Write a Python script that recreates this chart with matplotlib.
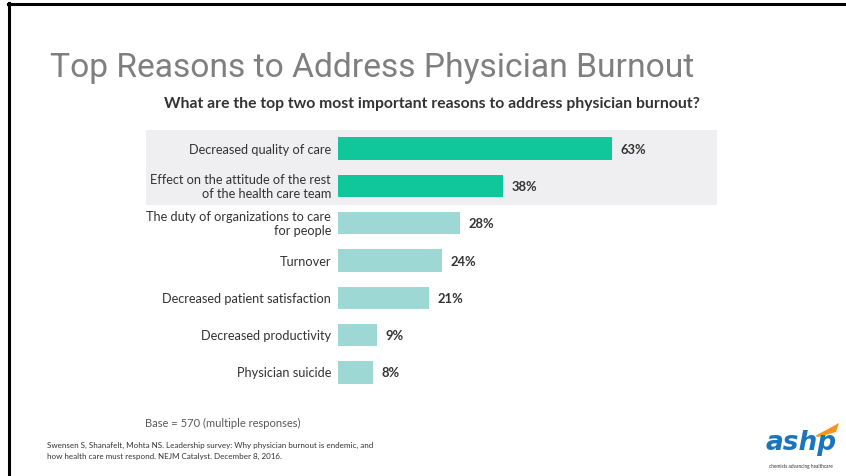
import matplotlib
matplotlib.use("Agg")
import matplotlib.pyplot as plt
from matplotlib.patches import Rectangle, Polygon
from matplotlib.lines import Line2D

# Survey results
reasons = [
    "Decreased quality of care",
    "Effect on the attitude of the rest\nof the health care team",
    "The duty of organizations to care\nfor people",
    "Turnover",
    "Decreased patient satisfaction",
    "Decreased productivity",
    "Physician suicide",
]
percent = [63, 38, 28, 24, 21, 9, 8]
highlight = [True, True, False, False, False, False, False]

title = "Top Reasons to Address Physician Burnout"
question = "What are the top two most important reasons to address physician burnout?"
base_note = "Base = 570 (multiple responses)"
citation = ("Swensen S, Shanafelt, Mohta NS. Leadership survey: Why physician burnout is endemic, and\n"
            "how health care must respond. NEJM Catalyst. December 8, 2016.")

W, H = 846, 477
DARK = "#10c79b"
LIGHT = "#9dd8d4"
BAND = "#efeff1"
TEXT = "#333333"


def fx(px):
    return px / W


def fy(py):
    return 1 - py / H


fig = plt.figure(figsize=(W / 100, H / 100), dpi=100)
fig.patch.set_facecolor("white")

# slide frame
fig.add_artist(Line2D([fx(8), fx(846)], [fy(5), fy(5)], color="black", lw=2.2))
fig.add_artist(Line2D([fx(9), fx(9)], [fy(4), fy(477)], color="black", lw=2.2))

fig.text(fx(50), fy(77), title, fontsize=24.2, color="#7f7f7f",
         family="Roboto", va="baseline")
fig.text(fx(432), fy(108), question, fontsize=11.3, color=TEXT, weight="bold",
         family="Lato", ha="center", va="baseline")

# bar area: x from 338 px to 717 px, rows from 131 px to 392 px
px_per_pct = 4.35
ax = fig.add_axes([fx(338), fy(392), (717 - 338) / W, (392 - 131) / H])
ax.patch.set_visible(False)
ax.set_xlim(0, (717 - 338) / px_per_pct)
ax.set_ylim(len(reasons) - 0.5, -0.5)
ax.axis("off")

band_left = (146 - 338) / px_per_pct
ax.add_patch(Rectangle((band_left, -0.5), ax.get_xlim()[1] - band_left, 2,
                       facecolor=BAND, edgecolor="none", clip_on=False, zorder=0))

ypos = list(range(len(reasons)))
colors = [DARK if h else LIGHT for h in highlight]
ax.barh(ypos, percent, height=0.6, color=colors, zorder=2)

for y, lab, v in zip(ypos, reasons, percent):
    ax.text(-1.6, y, lab, ha="right", va="center", fontsize=9.2, color=TEXT,
            family="Lato", linespacing=1.25, clip_on=False)
    ax.text(v + 1.9, y, f"{v}%", ha="left", va="center", fontsize=9.4,
            color=TEXT, weight="bold", family="Lato", clip_on=False)

fig.text(fx(223), fy(423), base_note, fontsize=8, color="#595959",
         family="Lato", ha="center", va="center")
fig.text(fx(47), fy(451), citation, fontsize=5.8, color=TEXT,
         family="Lato", ha="left", va="center", linespacing=1.7)

# ashp logo
fig.text(fx(801), fy(450), "ashp", fontsize=19, color="#1b75bc", weight="bold",
         style="italic", family="DejaVu Sans", ha="center", va="baseline")
fig.add_artist(Polygon([(fx(815), fy(437)), (fx(839), fy(424)),
                        (fx(836), fy(433)), (fx(818), fy(438))],
                       closed=True, facecolor="#f7941d", edgecolor="none"))
fig.text(fx(801), fy(467), "chemists advancing healthcare", fontsize=3.4,
         color="#333333", family="Lato", ha="center", va="center")

fig.savefig("out.png", dpi=100)
